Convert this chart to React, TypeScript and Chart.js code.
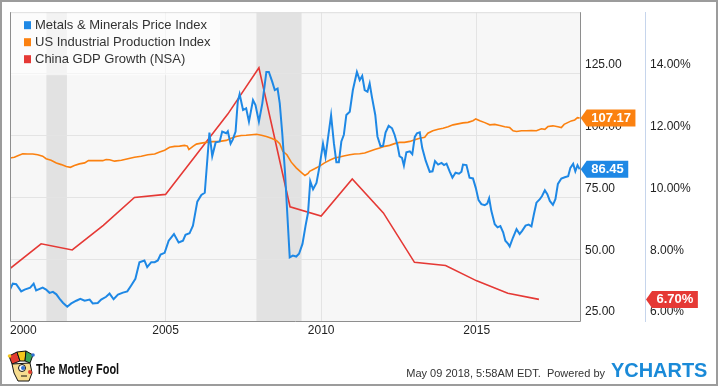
import React, { useEffect, useRef } from 'react';
import { Chart, registerables } from 'chart.js';

Chart.register(...registerables);

// ---------------- data ----------------
const seriesNames = ['Metals & Minerals Price Index', 'US Industrial Production Index', 'China GDP Growth (NSA)'];

const metalsYears = [
  2000.0, 2000.09, 2000.2, 2000.36, 2000.47, 2000.65, 2000.76, 2000.84,
  2001.05, 2001.16, 2001.27, 2001.38, 2001.49, 2001.59, 2001.7, 2001.84, 2001.97,
  2002.13, 2002.26, 2002.4, 2002.56, 2002.66, 2002.82, 2002.93,
  2003.09, 2003.2, 2003.33, 2003.47, 2003.63, 2003.77, 2003.9,
  2004.03, 2004.16, 2004.32, 2004.41, 2004.54, 2004.65, 2004.75, 2004.84, 2004.97,
  2005.1, 2005.27, 2005.42, 2005.56, 2005.64, 2005.77, 2005.88,
  2006.02, 2006.15, 2006.26, 2006.41, 2006.5, 2006.61, 2006.74, 2006.82, 2006.95,
  2007.0, 2007.09, 2007.16, 2007.25, 2007.32, 2007.38, 2007.49, 2007.59, 2007.68, 2007.81, 2007.89,
  2008.0, 2008.11, 2008.24, 2008.32, 2008.43, 2008.51, 2008.6, 2008.67, 2008.75, 2008.84, 2008.91, 2008.99,
  2009.09, 2009.2, 2009.29, 2009.4, 2009.5, 2009.58, 2009.65, 2009.74, 2009.85, 2009.95,
  2010.06, 2010.14, 2010.22, 2010.32, 2010.41, 2010.49, 2010.57, 2010.65, 2010.73, 2010.81, 2010.92,
  2011.02, 2011.15, 2011.24, 2011.32, 2011.4, 2011.49, 2011.56, 2011.63, 2011.74, 2011.81, 2011.91, 2011.99,
  2012.07, 2012.17, 2012.28, 2012.36, 2012.45, 2012.52, 2012.6, 2012.66, 2012.74, 2012.85, 2012.93,
  2013.01, 2013.08, 2013.17, 2013.25, 2013.36, 2013.49, 2013.58, 2013.66, 2013.76, 2013.87, 2013.95,
  2014.03, 2014.13, 2014.22, 2014.32, 2014.43, 2014.51, 2014.56, 2014.67, 2014.77, 2014.88, 2014.97,
  2015.06, 2015.15, 2015.26, 2015.34, 2015.4, 2015.47, 2015.58, 2015.67, 2015.76, 2015.85, 2015.92,
  2016.01, 2016.06, 2016.17, 2016.28, 2016.38, 2016.46, 2016.57, 2016.67, 2016.76, 2016.84, 2016.92,
  2017.03, 2017.1, 2017.19, 2017.27, 2017.35, 2017.45, 2017.53, 2017.61, 2017.72, 2017.83, 2017.94,
  2018.01, 2018.1, 2018.17, 2018.24, 2018.31,
];
const metalsValues = [
  37.7, 40.1, 39.9, 37.0, 37.7, 38.5, 40.1, 37.4,
  38.5, 37.7, 36.4, 36.8, 35.8, 34.1, 32.4, 30.8, 32.1,
  33.2, 34.0, 33.2, 33.7, 32.1, 32.3, 33.7,
  34.8, 36.1, 33.8, 35.7, 36.5, 37.0, 39.5,
  42.1, 48.8, 49.5, 46.8, 48.8, 48.8, 49.5, 51.9, 52.6,
  57.5, 60.2, 56.8, 57.5, 59.9, 60.5, 63.6,
  73.3, 76.0, 76.9, 101.3, 91.7, 97.3, 97.7, 101.7, 101.0,
  101.8, 96.8, 98.4, 101.7, 113.8, 116.8, 110.4, 111.1, 105.7, 114.4, 112.4,
  105.7, 113.1, 125.8, 125.8, 121.8, 118.5, 119.1, 113.1, 101.0, 85.0, 68.9, 50.8,
  51.5, 51.1, 52.2, 56.2, 63.6, 68.9, 81.6, 78.3, 80.9, 87.7,
  96.8, 91.4, 99.0, 108.3, 97.0, 89.3, 89.3, 97.7, 100.4, 108.4, 109.7,
  118.5, 125.8, 122.5, 124.2, 118.5, 117.8, 121.1, 115.8, 108.4, 99.7, 95.7, 95.9,
  101.3, 104.0, 103.0, 100.4, 96.4, 91.7, 91.0, 87.9, 93.3, 93.7, 92.5,
  99.5, 101.0, 101.4, 95.0, 89.9, 85.4, 85.6, 89.7, 88.3, 89.0, 88.1,
  88.7, 85.6, 83.0, 85.0, 84.6, 85.4, 88.3, 88.1, 83.0, 82.7, 78.9,
  73.9, 72.3, 71.9, 72.5, 74.7, 69.6, 64.2, 62.9, 63.4, 60.9, 57.5,
  56.2, 55.2, 58.9, 62.2, 60.2, 61.5, 63.6, 64.0, 63.3, 68.3, 72.9,
  74.3, 75.6, 77.9, 76.3, 73.6, 72.0, 74.3, 80.5, 82.7, 83.2, 83.6,
  87.0, 88.6, 85.6, 88.1, 86.45,
];

const indProdYears = [
  2000.0, 2000.14, 2000.25, 2000.41, 2000.57, 2000.73, 2000.89,
  2001.05, 2001.16, 2001.32, 2001.49, 2001.65, 2001.81, 2001.94,
  2002.07, 2002.23, 2002.4, 2002.52, 2002.66, 2002.82, 2002.98,
  2003.09, 2003.2, 2003.36, 2003.58, 2003.79,
  2004.0, 2004.22, 2004.43, 2004.65, 2004.81, 2004.97,
  2005.13, 2005.29, 2005.45, 2005.61, 2005.7, 2005.75, 2005.88, 2005.99,
  2006.15, 2006.31, 2006.52, 2006.74, 2006.95,
  2007.11, 2007.27, 2007.43, 2007.59, 2007.76, 2007.92,
  2008.08, 2008.24, 2008.4, 2008.56, 2008.67, 2008.77, 2008.9,
  2009.04, 2009.2, 2009.36, 2009.48, 2009.58, 2009.63, 2009.79, 2009.95,
  2010.11, 2010.27, 2010.43, 2010.59, 2010.76, 2010.92,
  2011.08, 2011.24, 2011.4, 2011.56, 2011.72, 2011.88,
  2012.04, 2012.2, 2012.36, 2012.52, 2012.68, 2012.85,
  2013.01, 2013.17, 2013.33, 2013.43, 2013.59, 2013.76, 2013.92,
  2014.08, 2014.24, 2014.4, 2014.56, 2014.72, 2014.88, 2014.97,
  2015.1, 2015.26, 2015.42, 2015.58, 2015.74, 2015.9,
  2016.06, 2016.17, 2016.28, 2016.44, 2016.6, 2016.76, 2016.92,
  2017.08, 2017.19, 2017.29, 2017.45, 2017.61, 2017.72, 2017.81, 2017.94,
  2018.04, 2018.15, 2018.24, 2018.31,
];
const indProdValues = [
  91.0, 91.3, 91.9, 92.7, 92.6, 92.6, 92.3,
  91.7, 90.7, 90.1, 89.0, 88.3, 87.5, 87.2,
  87.9, 88.6, 89.0, 89.9, 89.9, 89.9, 89.9,
  90.4, 90.3, 89.7, 90.1, 90.7,
  91.3, 91.7, 92.3, 92.6, 93.4, 94.1,
  95.3, 95.7, 95.8, 96.1, 95.8, 94.4, 95.7, 96.6,
  97.0, 97.3, 97.6, 97.7, 98.1,
  99.0, 99.7, 100.1, 100.2, 100.4, 100.6,
  100.2, 99.7, 99.0, 98.1, 96.8, 93.7, 92.3,
  89.3, 87.0, 85.2, 83.9, 84.7, 85.6, 86.6, 87.7,
  89.0, 90.1, 91.0, 91.4, 91.9, 92.3,
  92.6, 92.7, 93.0, 93.7, 94.4, 95.0,
  95.7, 96.1, 96.8, 97.3, 97.3, 97.7,
  98.4, 99.0, 99.4, 101.0, 102.0, 102.6, 103.0,
  103.6, 104.4, 104.8, 105.2, 105.4, 106.1, 106.8,
  106.1, 105.3, 104.4, 104.6, 104.1, 103.6,
  103.3, 102.0, 101.7, 102.0, 102.0, 102.1, 102.0,
  102.8, 102.6, 103.7, 104.0, 103.6, 103.3, 104.6, 105.4,
  106.0, 106.4, 107.3, 107.17,
];

const chinaYears = [2000, 2001, 2002, 2003, 2004, 2005, 2006, 2007, 2008, 2009, 2010, 2011, 2012, 2013, 2014, 2015, 2016, 2017];
const chinaGdp = [7.7, 8.5, 8.3, 9.1, 10.0, 10.1, 11.4, 12.7, 14.2, 9.7, 9.4, 10.6, 9.5, 7.9, 7.8, 7.3, 6.9, 6.7];

const xTicks = [2000, 2005, 2010, 2015];
const valueTicks = [25, 50, 75, 100, 125];
const pctTicks = [6, 8, 10, 12, 14];

const recessionStart = [2001.17, 2007.92];
const recessionEnd = [2001.83, 2009.37];

// ---------------- styles ----------------
const FONT = '"Liberation Sans", Arial, Helvetica, sans-serif';
const BLUE = '#1e88e5';
const ORANGE = '#fb8110';
const RED = '#e53935';
const colors = [BLUE, ORANGE, RED];

function flag(ctx: CanvasRenderingContext2D, x0: number, y: number, text: string, color: string) {
  ctx.font = `bold 13px ${FONT}`;
  const w = ctx.measureText(text).width + 9;
  ctx.fillStyle = color;
  ctx.beginPath();
  ctx.moveTo(x0, y);
  ctx.lineTo(x0 + 6, y - 8.5);
  ctx.lineTo(x0 + 6 + w, y - 8.5);
  ctx.lineTo(x0 + 6 + w, y + 8.5);
  ctx.lineTo(x0 + 6, y + 8.5);
  ctx.closePath();
  ctx.fill();
  ctx.fillStyle = '#ffffff';
  ctx.textAlign = 'left';
  ctx.textBaseline = 'middle';
  ctx.fillText(text, x0 + 10.5, y + 0.5);
}

function poly(ctx: CanvasRenderingContext2D, pts: number[][], fill: string) {
  ctx.beginPath();
  pts.forEach((p, i) => (i ? ctx.lineTo(p[0], p[1]) : ctx.moveTo(p[0], p[1])));
  ctx.closePath();
  ctx.fillStyle = fill;
  ctx.fill();
  ctx.strokeStyle = '#111';
  ctx.lineWidth = 1;
  ctx.stroke();
}

function jester(ctx: CanvasRenderingContext2D, x: number, y: number) {
  ctx.save();
  ctx.translate(x, y);
  poly(ctx, [[1, 5], [9, 1], [12, 10], [4, 13]], '#e23b2e');
  poly(ctx, [[9, 1], [18, 0], [17, 10], [12, 10]], '#f4c61c');
  poly(ctx, [[18, 0], [25, 4], [22, 12], [17, 10]], '#3ba556');
  poly(ctx, [[4, 13], [22, 12], [24, 22], [21, 30], [10, 30], [6, 22]], '#f7dd8f');
  ctx.beginPath(); ctx.arc(1.5, 5, 1.8, 0, Math.PI * 2); ctx.fillStyle = '#f4c61c'; ctx.fill();
  ctx.beginPath(); ctx.arc(25, 4, 1.8, 0, Math.PI * 2); ctx.fillStyle = '#2f6fd1'; ctx.fill();
  ctx.beginPath(); ctx.arc(14, 17, 3.5, 0, Math.PI * 2); ctx.fillStyle = '#fff'; ctx.fill(); ctx.stroke();
  ctx.beginPath(); ctx.arc(15, 17, 2, 0, Math.PI * 2); ctx.fillStyle = '#2f6fd1'; ctx.fill();
  ctx.beginPath(); ctx.arc(22, 21, 2, 0, Math.PI * 2); ctx.fillStyle = '#e23b2e'; ctx.fill();
  ctx.beginPath(); ctx.moveTo(13, 25); ctx.lineTo(19, 25); ctx.strokeStyle = '#111'; ctx.stroke();
  ctx.restore();
}

const decor = {
  id: 'decor',
  beforeDraw(chart: any) {
    const { ctx, chartArea: a, scales } = chart;
    ctx.save();
    ctx.fillStyle = '#ffffff';
    ctx.fillRect(0, 0, chart.width, chart.height);
    ctx.fillStyle = '#f7f7f7';
    ctx.fillRect(a.left, a.top, a.right - a.left, a.bottom - a.top);
    ctx.fillStyle = '#e2e2e2';
    recessionStart.forEach((s, i) => {
      const x0 = scales.x.getPixelForValue(s);
      const x1 = scales.x.getPixelForValue(recessionEnd[i]);
      ctx.fillRect(x0, a.top, x1 - x0, a.bottom - a.top);
    });
    ctx.restore();
  },
  afterDraw(chart: any) {
    const { ctx, chartArea: a, scales } = chart;
    ctx.save();
    // plot frame
    ctx.lineWidth = 1;
    ctx.strokeStyle = '#dedede';
    ctx.beginPath(); ctx.moveTo(a.left, a.top + 0.5); ctx.lineTo(a.right, a.top + 0.5); ctx.stroke();
    ctx.strokeStyle = '#8e8e8e';
    ctx.beginPath();
    ctx.moveTo(a.left + 0.5, a.top); ctx.lineTo(a.left + 0.5, a.bottom + 0.5);
    ctx.lineTo(a.right + 0.5, a.bottom + 0.5); ctx.lineTo(a.right + 0.5, a.top);
    ctx.stroke();

    // x labels
    ctx.font = `12px ${FONT}`;
    ctx.fillStyle = '#222';
    ctx.textBaseline = 'middle';
    ctx.textAlign = 'left';
    xTicks.forEach((v) => {
      const label = String(v);
      const w = ctx.measureText(label).width;
      let left = scales.x.getPixelForValue(v) - w / 2;
      if (left < a.left) left = a.left;
      ctx.fillText(label, left, a.bottom + 10);
    });

    // legend
    ctx.fillStyle = 'rgba(255,255,255,0.6)';
    ctx.fillRect(a.left + 1, a.top + 1, 209, 62);
    ctx.font = `13px ${FONT}`;
    seriesNames.forEach((name, i) => {
      const cy = a.top + 13 + i * 17;
      ctx.fillStyle = colors[i];
      ctx.fillRect(a.left + 14, cy - 4, 7, 8);
      ctx.fillStyle = '#333';
      ctx.fillText(name, a.left + 25, cy);
    });

    // value flags
    const lastM = metalsValues[metalsValues.length - 1];
    const lastI = indProdValues[indProdValues.length - 1];
    const lastC = chinaGdp[chinaGdp.length - 1];
    flag(ctx, scales.y.left + 0.7, scales.y.getPixelForValue(lastI), lastI.toFixed(2), ORANGE);
    flag(ctx, scales.y.left + 0.7, scales.y.getPixelForValue(lastM), lastM.toFixed(2), BLUE);
    flag(ctx, scales.y2.left + 1, scales.y2.getPixelForValue(lastC), lastC.toFixed(2) + '%', RED);

    // footer
    jester(ctx, 8, 351);
    ctx.save();
    ctx.translate(36, 374);
    ctx.scale(0.78, 1);
    ctx.font = `bold 14px ${FONT}`;
    ctx.fillStyle = '#111';
    ctx.textBaseline = 'alphabetic';
    ctx.fillText('The Motley Fool', 0, 0);
    ctx.restore();

    ctx.font = `11px ${FONT}`;
    ctx.fillStyle = '#333';
    ctx.textAlign = 'right';
    ctx.textBaseline = 'alphabetic';
    ctx.fillText('May 09 2018, 5:58AM EDT.  Powered by', 605, 377);

    ctx.save();
    ctx.translate(611, 377);
    ctx.scale(0.95, 1);
    ctx.font = `bold 21px ${FONT}`;
    ctx.fillStyle = '#1a8ad8';
    ctx.textAlign = 'left';
    ctx.fillText('YCHARTS', 0, 0);
    ctx.restore();

    // outer frame
    ctx.strokeStyle = '#9c9c9c';
    ctx.lineWidth = 2;
    ctx.strokeRect(1, 1, 716, 384);
    ctx.restore();
  },
};

export default function App() {
  const ref = useRef<HTMLCanvasElement | null>(null);

  useEffect(() => {
    if (!ref.current) return;
    const tickFont = { family: FONT, size: 12 };
    const chart = new Chart(ref.current, {
      type: 'line',
      data: {
        datasets: [
          {
            label: seriesNames[0],
            data: metalsYears.map((x, i) => ({ x, y: metalsValues[i] })),
            borderColor: BLUE,
            borderWidth: 2,
            yAxisID: 'y',
          },
          {
            label: seriesNames[1],
            data: indProdYears.map((x, i) => ({ x, y: indProdValues[i] })),
            borderColor: ORANGE,
            borderWidth: 1.6,
            yAxisID: 'y',
          },
          {
            label: seriesNames[2],
            data: chinaYears.map((x, i) => ({ x, y: chinaGdp[i] })),
            borderColor: RED,
            borderWidth: 1.6,
            yAxisID: 'y2',
          },
        ],
      },
      options: {
        responsive: false,
        animation: false,
        devicePixelRatio: 1,
        layout: { padding: { left: 10, top: 10, right: 5, bottom: 0 } },
        plugins: { legend: { display: false }, tooltip: { enabled: false } },
        elements: { point: { radius: 0 }, line: { tension: 0 } },
        scales: {
          x: {
            type: 'linear',
            min: 2000,
            max: 2018.32,
            afterBuildTicks: (s: any) => { s.ticks = xTicks.map((value) => ({ value })); },
            afterFit: (s: any) => { s.height = 65; },
            grid: { color: '#e4e4e4', drawTicks: false },
            border: { display: false },
            ticks: { display: false },
          },
          y: {
            type: 'linear',
            position: 'right',
            weight: 0,
            min: 25,
            max: 150,
            afterBuildTicks: (s: any) => { s.ticks = valueTicks.map((value) => ({ value })); },
            afterFit: (s: any) => { s.width = 65; },
            grid: { color: '#e4e4e4', drawTicks: false },
            border: { display: false },
            ticks: {
              padding: 5,
              labelOffset: -9,
              color: '#222',
              font: tickFont,
              callback: (v: any) => Number(v).toFixed(2),
            },
          },
          y2: {
            type: 'linear',
            position: 'right',
            weight: 1,
            min: 6,
            max: 16,
            afterBuildTicks: (s: any) => { s.ticks = pctTicks.map((value) => ({ value })); },
            afterFit: (s: any) => { s.width = 70; },
            grid: { display: false, drawTicks: false },
            border: { display: true, color: '#c6d5ec', width: 1 },
            ticks: {
              padding: 5,
              labelOffset: -9,
              color: '#222',
              font: tickFont,
              callback: (v: any) => Number(v).toFixed(2) + '%',
            },
          },
        },
      },
      plugins: [decor],
    } as any);
    return () => chart.destroy();
  }, []);

  return (
    <div style={{ position: 'fixed', left: 0, top: 0, width: 720, height: 386, background: '#fff' }}>
      <canvas ref={ref} width={720} height={386} style={{ display: 'block' }} />
    </div>
  );
}
